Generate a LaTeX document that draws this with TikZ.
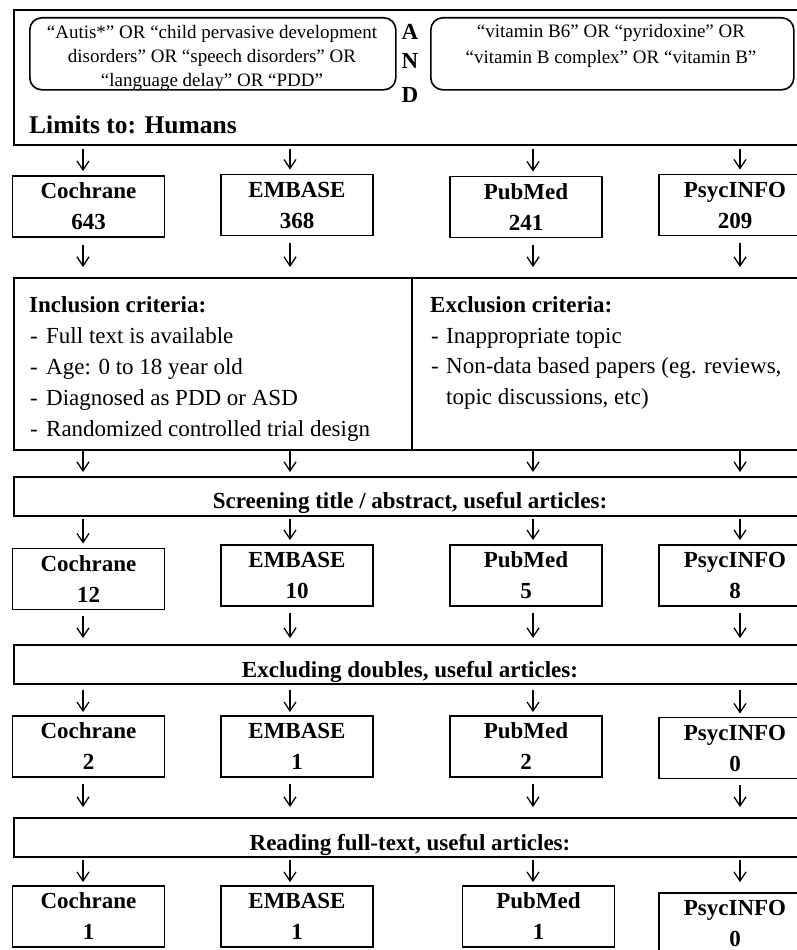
\documentclass[tikz,border=0pt]{standalone}
\usepackage{fontspec}
\setmainfont{Liberation Serif}
\usetikzlibrary{arrows.meta}
\begin{document}
\begin{tikzpicture}[x=1pt,y=-1pt,
  frame/.style={draw, line width=1.8pt, inner sep=0pt},
  dbbox/.style={frame, minimum width=152, minimum height=61, align=center, font=\bfseries\fontsize{23}{31}\selectfont},
  wide/.style={frame, anchor=north west, minimum width=799},
  qbox/.style={draw, line width=1.6pt, rounded corners=12pt, anchor=north west, inner sep=0pt},
  qtext/.style={align=center, anchor=north, inner sep=0pt},
  head/.style={anchor=base west, inner sep=0pt, font=\bfseries\fontsize{23}{31}\selectfont},
  item/.style={anchor=base west, inner sep=0pt, font=\fontsize{23}{31}\selectfont},
  midtext/.style={anchor=base, inner sep=0pt, font=\bfseries\fontsize{23}{31}\selectfont},
  arr/.style={line width=1.3pt, -{Straight Barb[length=9pt,width=12pt]}},
]
\useasboundingbox (0,0) rectangle (797,950);
\clip (0,0) rectangle (797,950);

% top search box
\node[wide, minimum height=135] (top) at (13,9) {};
\node[qbox, minimum width=366, minimum height=72] (q1) at (29,17) {};
\node[qtext, font=\fontsize{19}{24}\selectfont] (q1t) at (212,25)
  {“Autis*” OR “child pervasive development\\disorders” OR “speech disorders” OR\\“language delay” OR “PDD”};
\node[qbox, minimum width=363, minimum height=72] (q2) at (430,17) {};
\node[qtext, font=\fontsize{19}{26}\selectfont] (q2t) at (611,24)
  {“vitamin B6” OR “pyridoxine” OR\\“vitamin B complex” OR “vitamin B”};
\node[midtext] (andA) at (410,40) {A};
\node[midtext] (andN) at (410,68) {N};
\node[midtext] (andD) at (410,102) {D};
\node[head, font=\bfseries\fontsize{25.5}{31}\selectfont] (lim) at (29,133) {Limits to: Humans};

% row 1
\node[dbbox] (r1a) at (88.5,206.5) {Cochrane\\643};
\node[dbbox] (r1b) at (297,205) {EMBASE\\368};
\node[dbbox] (r1c) at (526,207) {PubMed\\241};
\node[dbbox] (r1d) at (735,205) {PsycINFO\\209};

% criteria
\node[wide, minimum height=172] (crit) at (13,277) {};
\coordinate (dv) at (412,0);
\draw[line width=1.8pt] (crit.north -| dv) -- (crit.south -| dv);
\node[head] (inc0) at (29,312) {Inclusion criteria:};
\node[item] (inc1) at (30,343) {\makebox[16pt][l]{-}Full text is available};
\node[item] (inc2) at (30,374) {\makebox[16pt][l]{-}Age: 0 to 18 year old};
\node[item] (inc3) at (30,405) {\makebox[16pt][l]{-}Diagnosed as PDD or ASD};
\node[item] (inc4) at (30,436) {\makebox[16pt][l]{-}Randomized controlled trial design};
\node[head] (exc0) at (430,312) {Exclusion criteria:};
\node[item] (exc1) at (431,343) {\makebox[15pt][l]{-}Inappropriate topic};
\node[item] (exc2) at (431,373) {\makebox[15pt][l]{-}Non-data based papers (eg. reviews,};
\node[item] (exc3) at (446,404) {topic discussions, etc)};

% screening
\node[wide, minimum height=39] (scr) at (13,476) {};
\node[midtext] (scrt) at (410,508) {Screening title / abstract, useful articles:};

% row 2
\node[dbbox] (r2a) at (88.5,579) {Cochrane\\12};
\node[dbbox] (r2b) at (297,575.5) {EMBASE\\10};
\node[dbbox] (r2c) at (526,575.5) {PubMed\\5};
\node[dbbox] (r2d) at (735,575.5) {PsycINFO\\8};

% excluding doubles
\node[wide, minimum height=39] (exd) at (13,644) {};
\node[midtext] (exdt) at (410,677) {Excluding doubles, useful articles:};

% row 3
\node[dbbox] (r3a) at (88.5,746.5) {Cochrane\\2};
\node[dbbox] (r3b) at (297,746.5) {EMBASE\\1};
\node[dbbox] (r3c) at (526,746.5) {PubMed\\2};
\node[dbbox] (r3d) at (735,748) {PsycINFO\\0};

% reading full text
\node[wide, minimum height=39] (rd) at (13,817) {};
\node[midtext] (rdt) at (410,850) {Reading full-text, useful articles:};

% row 4
\node[dbbox] (r4a) at (88.5,916.5) {Cochrane\\1};
\node[dbbox] (r4b) at (297,916.5) {EMBASE\\1};
\node[dbbox] (r4c) at (538.5,916.5) {PubMed\\1};
\node[dbbox] (r4d) at (735,923.5) {PsycINFO\\0};

% arrow columns
\coordinate (c1) at (83,0);
\coordinate (c2) at (290,0);
\coordinate (c3) at (533,0);
\coordinate (c4) at (740,0);

\foreach \c/\b in {c1/r1a,c2/r1b,c3/r1c,c4/r1d}
  \draw[arr, shorten <=3pt, shorten >=4pt] (top.south -| \c) -- (\b.north -| \c);
\foreach \c/\b in {c1/r1a,c2/r1b,c3/r1c,c4/r1d}
  \draw[arr, shorten <=7pt, shorten >=10pt] (\b.south -| \c) -- (crit.north -| \c);
\foreach \c in {c1,c2,c3,c4}
  \draw[arr, shorten <=0.5pt, shorten >=4pt] (crit.south -| \c) -- (scr.north -| \c);
\foreach \c/\b in {c1/r2a,c2/r2b,c3/r2c,c4/r2d}
  \draw[arr, shorten <=2pt, shorten >=4pt] (scr.south -| \c) -- (\b.north -| \c);
\foreach \c/\b in {c1/r2a,c2/r2b,c3/r2c,c4/r2d}
  \draw[arr, shorten <=6pt, shorten >=6pt] (\b.south -| \c) -- (exd.north -| \c);
\foreach \c/\b in {c1/r3a,c2/r3b,c3/r3c,c4/r3d}
  \draw[arr, shorten <=5pt, shorten >=3pt] (exd.south -| \c) -- (\b.north -| \c);
\foreach \c/\b in {c1/r3a,c2/r3b,c3/r3c,c4/r3d}
  \draw[arr, shorten <=6pt, shorten >=10pt] (\b.south -| \c) -- (rd.north -| \c);
\foreach \c/\b in {c1/r4a,c2/r4b,c3/r4c}
  \draw[arr, shorten <=2pt, shorten >=3pt] (rd.south -| \c) -- (\b.north -| \c);
\draw[arr, shorten <=2pt, shorten >=10pt] (rd.south -| c4) -- (r4d.north -| c4);
\end{tikzpicture}
\end{document}
